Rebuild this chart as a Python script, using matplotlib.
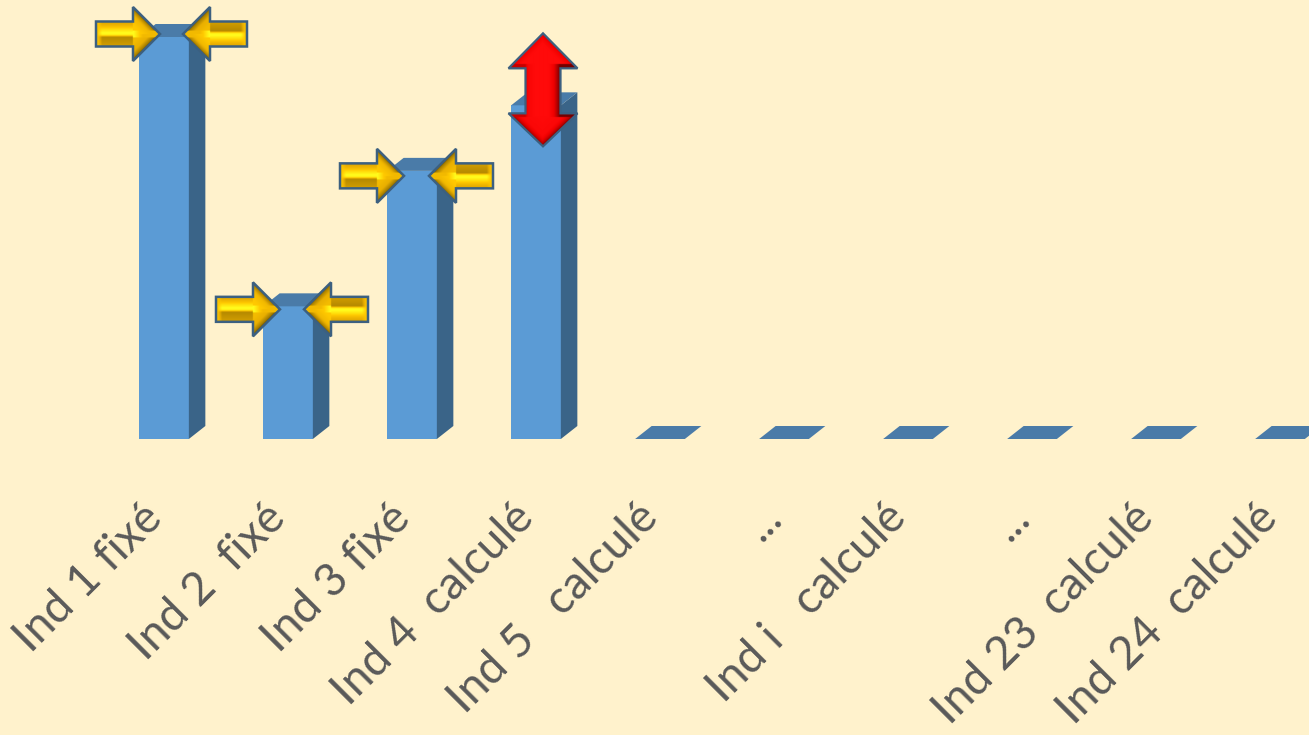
import numpy as np
import matplotlib
matplotlib.use('Agg')
import matplotlib.pyplot as plt
from matplotlib.colors import LinearSegmentedColormap
from matplotlib.patches import Polygon
from matplotlib.transforms import ScaledTranslation

categories = ['Ind 1 fixé', 'Ind 2  fixé', 'Ind 3 fixé', 'Ind 4  calculé', 'Ind 5   calculé',
              '...', 'Ind i   calculé', '...', 'Ind 23  calculé', 'Ind 24  calculé']
values = [100, 33, 66.7, 83, 0, 0, 0, 0, 0, 0]

# fixed indicators get a pair of yellow arrows, the calculated one a red arrow
fixed_bars = [0, 1, 2]
arrow_left_tip = [-4, -8, -8]
arrow_right_tip = [19, 16, 17]
arrow_dy = [-3, 3, 5]
free_bar = 3

BG = '#FFF2CC'
FRONT = '#5B9BD5'
SIDE = '#3A6488'
TOP = '#4A7BA8'
OUTLINE = '#3C6080'
W, H = 1309, 735
SPACING = 124
SCALE = 4.02
DEPTH_X = 16.5 / SPACING
DEPTH_Y = 13 / SCALE
BAR_W = 49.7 / SPACING

plt.rcParams['font.family'] = ['Lato', 'DejaVu Sans']
fig = plt.figure(figsize=(W / 100, H / 100), dpi=100, facecolor=BG)
ax = fig.add_axes([0, 0, 1, 1], facecolor=BG)
ax.set_xlim(-164 / SPACING, (W - 164) / SPACING)
ax.set_ylim(-(H - 439) / SCALE, 439 / SCALE)

x = np.arange(len(values))
ax.bar(x, values, BAR_W, color=FRONT, linewidth=0, zorder=2)
for i, v in zip(x, values):
    r = i + BAR_W / 2
    l = i - BAR_W / 2
    if v > 0:
        ax.add_patch(Polygon([(r, 0), (r + DEPTH_X, DEPTH_Y), (r + DEPTH_X, v + DEPTH_Y), (r, v)],
                             facecolor=SIDE, linewidth=0, zorder=2))
    ax.add_patch(Polygon([(l, v), (r, v), (r + DEPTH_X, v + DEPTH_Y), (l + DEPTH_X, v + DEPTH_Y)],
                         facecolor=TOP, linewidth=0, zorder=2))

ax.set_xticks(x)
ax.set_xticklabels(categories, rotation=45, ha='right', rotation_mode='anchor',
                   fontsize=33, color='#595959')
ax.tick_params(axis='x', length=0, direction='in', pad=-172)
ax.set_yticks([])
shift = ScaledTranslation(-24 / 100, 0, fig.dpi_scale_trans)
for lab in ax.get_xticklabels():
    lab.set_transform(lab.get_transform() + shift)
for s in ax.spines.values():
    s.set_visible(False)

# overlay in pixel coordinates for the arrows
over = fig.add_axes([0, 0, 1, 1], facecolor='none')
over.set_xlim(0, W)
over.set_ylim(H, 0)
over.axis('off')


def to_pixel(i, v):
    px, py = ax.transData.transform((i, v))
    return px, H - py


gold = LinearSegmentedColormap.from_list('gold', [(0, '#4E3B00'), (0.22, '#A07A00'), (0.5, '#E8AE00'),
                                                  (0.72, '#FFC800'), (1, '#FFFF1E')])
red = LinearSegmentedColormap.from_list('red', [(0, '#5A0000'), (0.3, '#A80000'), (0.65, '#F00000'),
                                                (1, '#FF0A0A')])


def yellow_arrow(tip, cy, direction):
    # direction +1 points right, -1 points left (shape turned by 180 degrees, so is the shading)
    L, hb, hh, sh = 64, 37, 27, 12.5
    pts = [(0, -sh), (hb, -sh), (hb, -hh), (L, 0), (hb, hh), (hb, sh), (0, sh)]
    poly = [(tip + direction * (a - L), cy + b) for a, b in pts]
    u = np.linspace(0, L, 130)
    w = np.linspace(-hh, hh, 110) * direction
    uu, ww = np.meshgrid(u, w)
    # shaft: bright band a little above the middle, brown below it
    shaft = np.interp(ww, [-12.5, -9, -5, -1, 1, 3, 12.5], [0.42, 0.55, 0.8, 1, 0.9, 0.3, 0.42])
    bevel = np.clip((uu - 1) / 5, 0, 1)
    shaft = 0.7 * (1 - bevel) + shaft * bevel
    # head: dark along the two slanted edges
    d = (L - uu) - np.abs(ww)
    head = np.interp(d, [0, 3, 9, 18], [0.05, 0.3, 0.6, 0.72])
    head = np.where(ww > 0, head * 0.85, head)
    head = np.where(np.abs(ww) < 3.5, np.maximum(head, np.interp(uu, [hb, hb + 10], [1, 0.6])), head)
    img = np.where(uu >= hb, head, shaft)
    ext = (tip - L, tip, cy + hh, cy - hh) if direction > 0 else (tip + L, tip, cy + hh, cy - hh)
    im = over.imshow(img, cmap=gold, vmin=0, vmax=1, extent=ext, aspect='auto', zorder=3,
                     origin='upper', interpolation='bilinear')
    patch = Polygon(poly, facecolor='none', edgecolor=OUTLINE, linewidth=1.8, joinstyle='miter', zorder=4)
    over.add_patch(patch)
    im.set_clip_path(patch)


def red_arrow(cx, top, bottom):
    hw, hl, sw = 34.5, 35, 17.5
    pts = [(cx, top), (cx + hw, top + hl), (cx + sw, top + hl), (cx + sw, bottom - 33), (cx + hw, bottom - 33),
           (cx, bottom), (cx - hw, bottom - 33), (cx - sw, bottom - 33), (cx - sw, top + hl), (cx - hw, top + hl)]
    xs = np.linspace(cx - hw, cx + hw, 140)
    ys = np.linspace(top, bottom, 226)
    xx, yy = np.meshgrid(xs, ys)
    rel = xx - cx
    shaft = np.interp(rel, [-sw, -14, -8, 6, 12, sw], [0.45, 0.85, 1, 1, 0.6, 0.1])
    d_top = (yy - top) - np.abs(rel) * hl / hw
    d_bot = (bottom - yy) - np.abs(rel) * 33 / hw
    head_top = np.interp(d_top, [0, 3, 10, 30], [0.45, 0.7, 1, 1])
    head_bot = np.interp(d_bot, [0, 3, 10, 30], [0.15, 0.45, 0.9, 1])
    img = shaft.copy()
    img = np.where(yy < top + hl - 4, head_top, img)
    img = np.where(yy > bottom - 29, head_bot, img)
    im = over.imshow(img, cmap=red, vmin=0, vmax=1, extent=(cx - hw, cx + hw, bottom, top),
                     aspect='auto', zorder=3, origin='upper', interpolation='bilinear')
    patch = Polygon(pts, facecolor='none', edgecolor=OUTLINE, linewidth=1.6, joinstyle='miter', zorder=4)
    over.add_patch(patch)
    im.set_clip_path(patch)


for k, i in enumerate(fixed_bars):
    px, py = to_pixel(x[i], values[i])
    yellow_arrow(px + arrow_left_tip[k], py + arrow_dy[k], 1)
    yellow_arrow(px + arrow_right_tip[k], py + arrow_dy[k], -1)

px, py = to_pixel(x[free_bar], values[free_bar])
red_arrow(px + 7, py - 72, py + 41)

over.set_xlim(0, W)
over.set_ylim(H, 0)

fig.savefig('out.png', dpi=100, facecolor=BG)
